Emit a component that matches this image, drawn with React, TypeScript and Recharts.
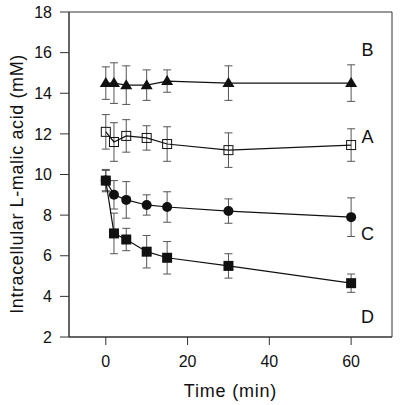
import { LineChart, Line, XAxis, YAxis, ErrorBar, ReferenceArea, ReferenceDot } from "recharts";

const times = [0, 2, 5, 10, 15, 30, 60];
const seriesA = [12.1, 11.6, 11.9, 11.8, 11.5, 11.2, 11.45];
const errA = [0.85, 0.95, 0.8, 0.6, 0.85, 0.85, 0.8];
const seriesB = [14.5, 14.5, 14.4, 14.4, 14.6, 14.5, 14.5];
const errB = [0.8, 1.0, 0.95, 0.75, 0.55, 0.85, 0.9];
const seriesC = [9.7, 9.0, 8.75, 8.5, 8.4, 8.2, 7.9];
const errC = [0.55, 0.7, 0.9, 0.5, 0.75, 0.6, 0.95];
const seriesD = [9.7, 7.1, 6.8, 6.2, 5.9, 5.5, 4.65];
const errD = [0.5, 1.0, 0.55, 0.8, 0.8, 0.6, 0.45];
const yTicks = [2, 4, 6, 8, 10, 12, 14, 16, 18];
const xTicks = [0, 20, 40, 60];
const curveLabels = [
  { name: "B", x: 64, y: 16.15 },
  { name: "A", x: 64, y: 11.85 },
  { name: "C", x: 64, y: 7.1 },
  { name: "D", x: 64, y: 3.0 },
];

const FONT = "'Liberation Sans', Arial, sans-serif";
const INK = "#111";
const BAR = "#555";

const data = times.map((t, i) => ({
  t,
  a: seriesA[i], ea: errA[i],
  b: seriesB[i], eb: errB[i],
  c: seriesC[i], ec: errC[i],
  d: seriesD[i], ed: errD[i],
}));

const Triangle = (p: any) => (
  <path key={p.index} d={`M${p.cx},${p.cy - 6} L${p.cx + 6},${p.cy + 4} L${p.cx - 6},${p.cy + 4} Z`} fill={INK} />
);
const OpenSquare = (p: any) => (
  <rect key={p.index} x={p.cx - 4.5} y={p.cy - 4.5} width={9} height={9} fill="none" stroke={INK} strokeWidth={1} />
);
const FilledSquare = (p: any) => (
  <rect key={p.index} x={p.cx - 5} y={p.cy - 5} width={10} height={10} fill={INK} />
);
const Circle = (p: any) => <circle key={p.index} cx={p.cx} cy={p.cy} r={5} fill={INK} />;

// y title sits a bit below the plot centre in the original
const YTitle = () => (
  <text
    transform="translate(23,184) rotate(-90)"
    textAnchor="middle"
    fontSize={18}
    letterSpacing={0.6}
    fill={INK}
    fontFamily={FONT}
  >
    Intracellular L-malic acid (mM)
  </text>
);

export default function App() {
  const tick = { fontSize: 16, fill: INK, fontFamily: FONT };
  return (
    <div style={{ position: "absolute", left: 0, top: 0, background: "#fff" }}>
      <LineChart width={400} height={405} data={data} margin={{ top: 12, right: 8, left: 0, bottom: 0 }}>
        <XAxis
          dataKey="t"
          type="number"
          domain={[-9, 70]}
          ticks={xTicks}
          height={68}
          tickSize={8}
          tickMargin={11}
          tick={tick}
          stroke="#333"
          label={{ value: "Time (min)", position: "insideBottom", offset: 8, fontSize: 18, letterSpacing: 0.8, fill: INK, fontFamily: FONT }}
        />
        <YAxis
          type="number"
          domain={[2, 18]}
          ticks={yTicks}
          width={69}
          tickSize={9}
          tickMargin={8}
          tick={tick}
          stroke="#333"
          label={{ content: YTitle }}
        />
        <ReferenceArea x1={-9} x2={70} y1={2} y2={18} fill="none" stroke="#333" strokeWidth={1} />
        <Line dataKey="a" stroke={INK} strokeWidth={1.2} dot={OpenSquare} isAnimationActive={false}>
          <ErrorBar dataKey="ea" width={4} stroke={BAR} strokeWidth={1} direction="y" />
        </Line>
        <Line dataKey="b" stroke={INK} strokeWidth={1.2} dot={Triangle} isAnimationActive={false}>
          <ErrorBar dataKey="eb" width={4} stroke={BAR} strokeWidth={1} direction="y" />
        </Line>
        <Line dataKey="c" stroke={INK} strokeWidth={1.2} dot={Circle} isAnimationActive={false}>
          <ErrorBar dataKey="ec" width={4} stroke={BAR} strokeWidth={1} direction="y" />
        </Line>
        <Line dataKey="d" stroke={INK} strokeWidth={1.2} dot={FilledSquare} isAnimationActive={false}>
          <ErrorBar dataKey="ed" width={4} stroke={BAR} strokeWidth={1} direction="y" />
        </Line>
        {curveLabels.map((l) => (
          <ReferenceDot
            key={l.name}
            x={l.x}
            y={l.y}
            r={0.01}
            fill="none"
            stroke="none"
            label={{ value: l.name, position: "center", fontSize: 18, fill: INK, fontFamily: FONT }}
          />
        ))}
      </LineChart>
    </div>
  );
}
